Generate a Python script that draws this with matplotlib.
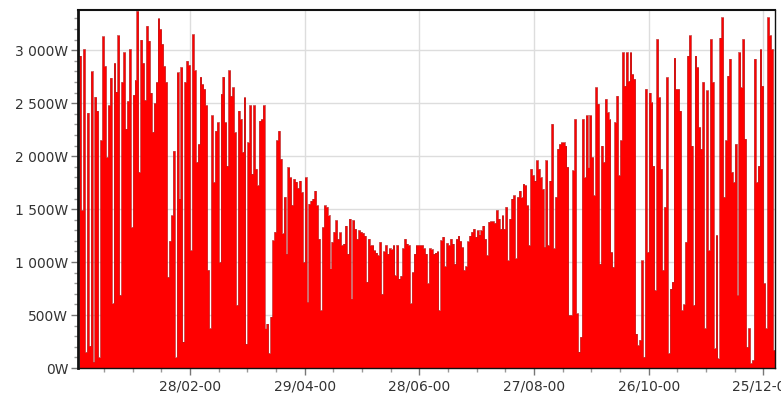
import numpy as np
import matplotlib
matplotlib.use('Agg')
import matplotlib.pyplot as plt
from matplotlib.ticker import MultipleLocator, FixedLocator, FuncFormatter

# daily peak power (W), one value per day of the year
jan_feb = [2950, 1490, 3010, 150, 2410, 210, 2800, 60, 2560, 2430, 100, 2150, 3130, 2850,
           1990, 2480, 2740, 610, 2880, 2610, 3140, 690, 2700, 2980, 2260, 2520, 3010, 1330,
           2580, 2720, 3370, 1850, 3100, 2880, 2530, 3230, 3090, 2600, 2230, 2500, 2700, 3300,
           3200, 3060, 2850, 2700, 860, 1200, 1440, 2050, 100, 2790]
feb_apr = [1600, 2840, 250, 2700, 2900, 2860, 1110, 3150, 2810, 1945, 2115, 2750, 2680, 2635,
           2480, 925, 375, 2385, 1755, 2240, 2320, 1000, 2590, 2750, 2320, 1910, 2810, 2570,
           2650, 2225, 595, 2430, 2350, 2040, 2555, 230, 2130, 2480, 1835, 2480, 1880, 1725,
           2335, 2350, 2480, 375, 420, 140, 485, 1205, 1285]
apr_jun = [2150, 2240, 1975, 1270, 1615, 1080, 1895, 1800, 1540, 1785, 1760, 1700, 1770, 1660,
           1000, 1800, 625, 1550, 1580, 1600, 1675, 1535, 1220, 545, 1330, 1535, 1520, 1440,
           940, 1190, 1285, 1395, 1220, 1280, 1160, 1175, 1345, 1080, 1410, 655, 1395, 1315,
           1220, 1300, 1285, 1275, 1250, 815, 1220, 1160, 1160, 1110, 1090, 1065]
jun_jul = [1190, 700, 1100, 1160, 1080, 1130, 1120, 1160, 875, 1160, 845, 870, 1130, 1220,
           1175, 1160, 610, 905, 1080, 1160, 1160, 1160, 1160, 1130, 1080, 800, 1130, 1120,
           1080, 1090, 1100, 545, 1205, 1240, 960, 1180, 1160, 1220, 1175, 985, 1220, 1250,
           1200, 1140, 925, 960, 1195, 1250, 1285, 1315, 1240, 1300]
jul_sep = [1260, 1300, 1345, 1220, 1065, 1380, 1385, 1385, 1370, 1490, 1410, 1315, 1440, 1315,
           1520, 1015, 1410, 1600, 1630, 1035, 1615, 1675, 1610, 1740, 1725, 1535, 1160, 1880,
           1820, 1770, 1960, 1880, 1800, 1690, 1145, 1960, 1160, 1770, 2305, 1130, 1615, 2070,
           2115, 2130, 2130, 2100, 1900, 500, 500, 1865, 2350]
sep_nov = [515, 155, 295, 2350, 1800, 2385, 1895, 2385, 1990, 1630, 2650, 2495, 985, 2100,
           1945, 2540, 2415, 2350, 1095, 955, 2320, 2570, 1820, 2150, 2980, 2665, 2980, 2710,
           2980, 2775, 2730, 325, 215, 265, 1015, 105, 2635, 1095, 2600, 2510, 1910, 735,
           3105, 2555, 1880, 925, 1520, 2745, 140, 750, 815, 2930, 2635]
nov_dec = [2635, 2430, 545, 600, 1190, 2950, 3140, 2100, 595, 2950, 2840, 2275, 2070, 2700,
           375, 2620, 1110, 3105, 2700, 185, 1255, 90, 3120, 3310, 1615, 2150, 2760, 2920,
           1850, 1755, 2115, 690, 2980, 2650, 3105, 2165, 200, 375, 45, 75, 2920, 1755,
           1910, 3010, 2665, 800, 375, 3310, 3140, 3010, 170, 170]

tick_days = [58, 118, 178, 238, 298, 358]
tick_labels = ['28/02-00', '29/04-00', '28/06-00', '27/08-00', '26/10-00', '25/12-00']

watts = np.array(jan_feb + feb_apr + apr_jun + jun_jul + jul_sep + sep_nov + nov_dec, dtype=float)
days = np.arange(len(watts) + 1)
tops = np.append(watts, watts[-1])

fig = plt.figure(figsize=(7.81, 3.99), dpi=100)
ax = fig.add_axes([78 / 781, 31 / 399, 697 / 781, 358 / 399])

ax.fill_between(days, tops, step='post', color='#ff0000', lw=0, zorder=2)
ax.step(days, tops, where='post', color='#b81a1a', lw=0.45, zorder=3)

ax.set_xlim(-0.6, 364.1)
ax.set_ylim(0, 3380)

ax.xaxis.set_major_locator(FixedLocator(tick_days))
ax.set_xticklabels(tick_labels)
ax.xaxis.set_minor_locator(FixedLocator(np.arange(13, 365, 15)))
ax.yaxis.set_major_locator(MultipleLocator(500))
ax.yaxis.set_minor_locator(MultipleLocator(100))
ax.yaxis.set_major_formatter(FuncFormatter(lambda v, _: f"{int(v):,}".replace(',', ' ') + 'W'))

ax.tick_params(which='major', direction='out', length=5, width=1, color='#777777',
               labelsize=10, labelcolor='#333333')
ax.tick_params(which='minor', direction='out', length=3, width=1, color='#999999')
ax.tick_params(axis='y', pad=2)
ax.tick_params(axis='x', pad=3)

ax.grid(True, which='major', color='#dddddd', lw=1)
ax.set_axisbelow(True)

ax.spines['left'].set_linewidth(2)
ax.spines['top'].set_linewidth(1.5)
ax.spines['right'].set_linewidth(1)
ax.spines['bottom'].set_linewidth(1)
for s in ax.spines.values():
    s.set_color('#111111')
    s.set_zorder(5)

fig.savefig('out.png', dpi=100)
